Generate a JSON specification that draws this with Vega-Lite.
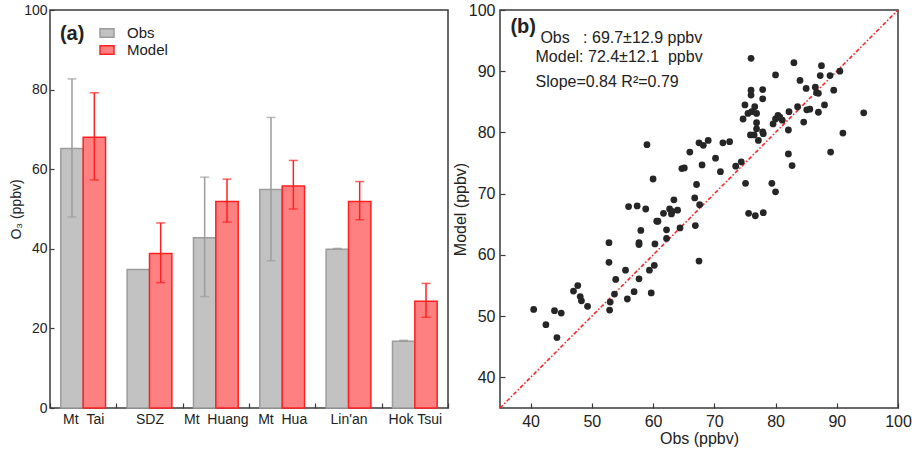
{
  "$schema": "https://vega.github.io/schema/vega-lite/v6.json",
  "padding": {"left": 8, "top": 1, "right": 2, "bottom": 2},
  "config": {
    "font": "Liberation Sans",
    "view": {"stroke": "#3a3a3a", "strokeWidth": 1.5},
    "axis": {"domain": false, "grid": false, "labelFlush": false, "tickColor": "#3a3a3a", "tickWidth": 1.2, "labelColor": "#222", "titleColor": "#222", "titleFontWeight": "normal"}
  },
  "spacing": 1,
  "resolve": {"scale": {"fill": "independent", "stroke": "independent"}, "legend": {"fill": "independent", "stroke": "independent"}},
  "hconcat": [
    {
      "width": 398,
      "height": 398,
      "data": {"values": [
        {"site": "Mt\u00a0\u00a0Tai", "series": "Obs", "value": 65.2, "lo": 48.0, "hi": 82.7},
        {"site": "Mt\u00a0\u00a0Tai", "series": "Model", "value": 68.0, "lo": 57.3, "hi": 79.2},
        {"site": "SDZ", "series": "Obs", "value": 34.8, "lo": null, "hi": null},
        {"site": "SDZ", "series": "Model", "value": 38.8, "lo": 31.5, "hi": 46.5},
        {"site": "Mt\u00a0\u00a0Huang", "series": "Obs", "value": 42.8, "lo": 28.0, "hi": 58.0},
        {"site": "Mt\u00a0\u00a0Huang", "series": "Model", "value": 51.9, "lo": 46.7, "hi": 57.5},
        {"site": "Mt\u00a0\u00a0Hua", "series": "Obs", "value": 54.9, "lo": 37.0, "hi": 73.0},
        {"site": "Mt\u00a0\u00a0Hua", "series": "Model", "value": 55.8, "lo": 50.0, "hi": 62.2},
        {"site": "Lin'an", "series": "Obs", "value": 39.9, "lo": 39.9, "hi": 40.1},
        {"site": "Lin'an", "series": "Model", "value": 51.9, "lo": 47.3, "hi": 56.9},
        {"site": "Hok Tsui", "series": "Obs", "value": 16.8, "lo": 16.8, "hi": 17.0},
        {"site": "Hok Tsui", "series": "Model", "value": 26.8, "lo": 22.8, "hi": 31.3}
      ]},
      "layer": [
        {
          "mark": {"type": "bar", "strokeWidth": 1.5},
          "encoding": {
            "x": {"field": "site", "type": "nominal", "sort": null,
              "scale": {"paddingInner": 0, "paddingOuter": 0},
              "axis": {"title": null, "labelAngle": 0, "tickBand": "extent", "tickSize": -5, "labelPadding": 9, "labelFontSize": 14}},
            "xOffset": {"field": "series", "type": "nominal", "scale": {"domain": ["Obs", "Model"], "paddingInner": 0, "paddingOuter": 0.483}},
            "y": {"field": "value", "type": "quantitative",
              "scale": {"domain": [0, 100], "nice": false},
              "axis": {"title": "O\u2083 (ppbv)", "titleFontSize": 14, "titlePadding": 0, "values": [0, 20, 40, 60, 80, 100], "tickSize": -4, "labelPadding": 7, "labelFontSize": 14}},
            "fill": {"field": "series", "type": "nominal",
              "scale": {"domain": ["Obs", "Model"], "range": ["#c2c2c2", "#ff8080"]},
              "legend": {"title": null, "orient": "none", "legendX": 49, "legendY": 15, "padding": 0, "symbolType": "M-1,-0.6H1V0.6H-1Z", "symbolSize": 196, "symbolStrokeWidth": 1.5, "labelFontSize": 15, "labelOffset": 12, "rowPadding": 1, "labelColor": "#222"}},
            "stroke": {"field": "series", "type": "nominal",
              "scale": {"domain": ["Obs", "Model"], "range": ["#9c9c9c", "#ff2020"]},
              "legend": {"title": null, "orient": "none", "legendX": 49, "legendY": 15, "padding": 0, "symbolType": "M-1,-0.6H1V0.6H-1Z", "symbolSize": 196, "symbolStrokeWidth": 1.5, "labelFontSize": 15, "labelOffset": 12, "rowPadding": 1, "labelColor": "#222"}}
          }
        },
        {
          "mark": {"type": "rule", "strokeWidth": 1.5},
          "encoding": {
            "x": {"field": "site", "type": "nominal", "sort": null},
            "xOffset": {"field": "series", "type": "nominal"},
            "y": {"field": "lo", "type": "quantitative"},
            "y2": {"field": "hi"},
            "stroke": {"field": "series", "type": "nominal", "legend": null}
          }
        },
        {
          "mark": {"type": "tick", "size": 9, "thickness": 1.5},
          "encoding": {
            "x": {"field": "site", "type": "nominal", "sort": null},
            "xOffset": {"field": "series", "type": "nominal"},
            "y": {"field": "lo", "type": "quantitative"},
            "color": {"field": "series", "type": "nominal", "scale": {"domain": ["Obs", "Model"], "range": ["#9c9c9c", "#ff2020"]}, "legend": null}
          }
        },
        {
          "mark": {"type": "tick", "size": 9, "thickness": 1.5},
          "encoding": {
            "x": {"field": "site", "type": "nominal", "sort": null},
            "xOffset": {"field": "series", "type": "nominal"},
            "y": {"field": "hi", "type": "quantitative"},
            "color": {"field": "series", "type": "nominal", "scale": {"domain": ["Obs", "Model"], "range": ["#9c9c9c", "#ff2020"]}, "legend": null}
          }
        },
        {
          "data": {"values": [{"site": "Mt\u00a0\u00a0Tai", "y": 94.0, "label": "(a)"}]},
          "mark": {"type": "text", "align": "left", "baseline": "middle", "fontSize": 20, "fontWeight": "bold", "color": "#222"},
          "encoding": {
            "x": {"field": "site", "type": "nominal", "sort": null, "bandPosition": 0.15},
            "y": {"field": "y", "type": "quantitative"},
            "text": {"field": "label"}
          }
        }
      ]
    },
    {
      "width": 398,
      "height": 398,
      "layer": [
        {
          "data": {"values": [{"x1": 35, "y1": 35, "x2": 100, "y2": 100}]},
          "mark": {"type": "rule", "color": "#ff1a1a", "strokeWidth": 1.5, "strokeDash": [4, 2, 1.5, 2]},
          "encoding": {
            "x": {"field": "x1", "type": "quantitative",
              "scale": {"domain": [35, 100], "nice": false},
              "axis": {"title": "Obs (ppbv)", "titleFontSize": 16, "titlePadding": 1, "values": [40, 50, 60, 70, 80, 90, 100], "tickSize": -5, "labelPadding": 10, "labelFontSize": 16}},
            "y": {"field": "y1", "type": "quantitative",
              "scale": {"domain": [35, 100], "nice": false},
              "axis": {"title": "Model (ppbv)", "titleFontSize": 16, "titlePadding": 0, "values": [40, 50, 60, 70, 80, 90, 100], "tickSize": -5, "labelPadding": 10, "labelFontSize": 16}},
            "x2": {"field": "x2"},
            "y2": {"field": "y2"}
          }
        },
        {
          "data": {"values": [
            {"obs": 40.5, "model": 51.1}, {"obs": 42.5, "model": 48.6}, {"obs": 43.9, "model": 50.9}, {"obs": 44.3, "model": 46.5},
            {"obs": 45.0, "model": 50.5}, {"obs": 47.0, "model": 54.1}, {"obs": 47.7, "model": 55.0}, {"obs": 48.1, "model": 53.2},
            {"obs": 48.3, "model": 52.5}, {"obs": 49.3, "model": 51.6}, {"obs": 52.8, "model": 62.0}, {"obs": 52.8, "model": 58.8},
            {"obs": 53.0, "model": 52.3}, {"obs": 52.9, "model": 51.0}, {"obs": 53.7, "model": 53.6}, {"obs": 53.9, "model": 56.0},
            {"obs": 55.5, "model": 57.5}, {"obs": 55.8, "model": 52.8}, {"obs": 56.0, "model": 67.9}, {"obs": 56.9, "model": 54.0},
            {"obs": 57.4, "model": 68.0}, {"obs": 57.7, "model": 62.0}, {"obs": 57.7, "model": 61.7}, {"obs": 57.7, "model": 56.1},
            {"obs": 58.0, "model": 64.0}, {"obs": 58.8, "model": 67.5}, {"obs": 59.0, "model": 78.0}, {"obs": 59.4, "model": 57.5},
            {"obs": 59.7, "model": 53.8}, {"obs": 60.0, "model": 72.4}, {"obs": 60.2, "model": 58.3}, {"obs": 60.3, "model": 61.8},
            {"obs": 60.6, "model": 65.5}, {"obs": 60.8, "model": 65.5}, {"obs": 61.7, "model": 66.8}, {"obs": 62.2, "model": 64.1},
            {"obs": 62.2, "model": 62.7}, {"obs": 62.7, "model": 67.5}, {"obs": 63.0, "model": 66.7}, {"obs": 63.1, "model": 67.1},
            {"obs": 63.4, "model": 69.0}, {"obs": 64.0, "model": 67.3}, {"obs": 64.4, "model": 64.4}, {"obs": 64.7, "model": 74.1},
            {"obs": 65.1, "model": 74.2}, {"obs": 66.0, "model": 76.8}, {"obs": 66.8, "model": 69.3}, {"obs": 66.9, "model": 64.8},
            {"obs": 67.1, "model": 71.5}, {"obs": 67.5, "model": 78.3}, {"obs": 67.5, "model": 59.0}, {"obs": 67.6, "model": 68.2},
            {"obs": 68.0, "model": 74.7}, {"obs": 68.2, "model": 77.9}, {"obs": 69.0, "model": 78.7}, {"obs": 70.2, "model": 75.8},
            {"obs": 71.0, "model": 73.6}, {"obs": 71.4, "model": 78.3}, {"obs": 72.5, "model": 78.5}, {"obs": 73.5, "model": 74.5},
            {"obs": 74.4, "model": 75.2}, {"obs": 74.7, "model": 82.2}, {"obs": 75.0, "model": 84.5}, {"obs": 75.1, "model": 71.7},
            {"obs": 75.5, "model": 83.1}, {"obs": 75.6, "model": 66.8}, {"obs": 75.9, "model": 79.6}, {"obs": 76.0, "model": 92.1},
            {"obs": 76.0, "model": 86.9}, {"obs": 76.0, "model": 86.1}, {"obs": 76.1, "model": 83.4}, {"obs": 76.5, "model": 79.6},
            {"obs": 76.6, "model": 84.2}, {"obs": 76.7, "model": 66.4}, {"obs": 76.9, "model": 83.1}, {"obs": 76.9, "model": 81.6},
            {"obs": 76.9, "model": 80.6}, {"obs": 77.2, "model": 78.7}, {"obs": 77.9, "model": 87.0}, {"obs": 77.9, "model": 85.5},
            {"obs": 77.9, "model": 80.1}, {"obs": 78.0, "model": 79.8}, {"obs": 78.0, "model": 66.9}, {"obs": 79.4, "model": 71.7},
            {"obs": 79.6, "model": 81.4}, {"obs": 80.0, "model": 89.4}, {"obs": 80.0, "model": 82.2}, {"obs": 80.0, "model": 70.3},
            {"obs": 80.4, "model": 82.8}, {"obs": 80.7, "model": 82.5}, {"obs": 81.1, "model": 82.0}, {"obs": 82.1, "model": 76.5},
            {"obs": 82.1, "model": 80.4}, {"obs": 82.2, "model": 83.4}, {"obs": 82.7, "model": 74.6}, {"obs": 83.0, "model": 91.4},
            {"obs": 83.6, "model": 84.2}, {"obs": 84.0, "model": 88.5}, {"obs": 84.6, "model": 81.7}, {"obs": 85.0, "model": 87.2},
            {"obs": 85.1, "model": 83.7}, {"obs": 85.6, "model": 83.8}, {"obs": 86.5, "model": 87.4}, {"obs": 86.7, "model": 86.5},
            {"obs": 87.0, "model": 86.4}, {"obs": 87.0, "model": 83.3}, {"obs": 87.3, "model": 89.3}, {"obs": 87.5, "model": 90.9},
            {"obs": 88.0, "model": 84.5}, {"obs": 88.9, "model": 89.3}, {"obs": 89.0, "model": 76.8}, {"obs": 89.5, "model": 86.9},
            {"obs": 90.5, "model": 90.0}, {"obs": 91.0, "model": 79.9}, {"obs": 94.4, "model": 83.2}
          ]},
          "mark": {"type": "point", "filled": true, "shape": "circle", "size": 46, "color": "#262626", "opacity": 1},
          "encoding": {
            "x": {"field": "obs", "type": "quantitative"},
            "y": {"field": "model", "type": "quantitative"}
          }
        },
        {
          "data": {"values": [
            {"x": 36.7, "y": 97.3, "label": "(b)"}
          ]},
          "mark": {"type": "text", "align": "left", "baseline": "middle", "color": "#222", "fontSize": 20, "fontWeight": "bold"},
          "encoding": {
            "x": {"field": "x", "type": "quantitative"},
            "y": {"field": "y", "type": "quantitative"},
            "text": {"field": "label"}
          }
        },
        {
          "data": {"values": [
            {"x": 41.6, "y": 95.4, "label": "Obs\u00a0\u00a0\u00a0: 69.7\u00b112.9 ppbv"},
            {"x": 40.8, "y": 92.3, "label": "Model: 72.4\u00b112.1\u00a0\u00a0ppbv"},
            {"x": 40.8, "y": 88.2, "label": "Slope=0.84 R\u00b2=0.79"}
          ]},
          "mark": {"type": "text", "align": "left", "baseline": "middle", "color": "#222", "fontSize": 16},
          "encoding": {
            "x": {"field": "x", "type": "quantitative"},
            "y": {"field": "y", "type": "quantitative"},
            "text": {"field": "label"}
          }
        }
      ]
    }
  ]
}
